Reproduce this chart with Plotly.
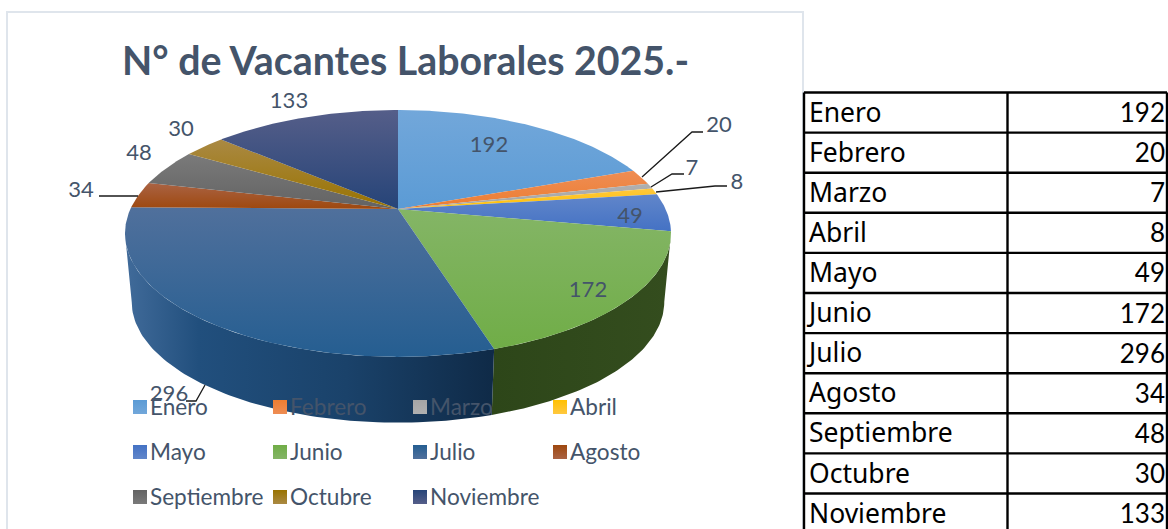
import numpy as np
import plotly.graph_objects as go

# ---- data ----
months = ["Enero", "Febrero", "Marzo", "Abril", "Mayo", "Junio", "Julio",
          "Agosto", "Septiembre", "Octubre", "Noviembre"]
vacancies = [192, 20, 7, 8, 49, 172, 296, 34, 48, 30, 133]
title_text = "N° de Vacantes Laborales 2025.-"

# ---- styles ----
top_colors = [("#72a7da", "#5b9bd5"), ("#ee8d54", "#ed7d31"), ("#b0b0b0", "#a5a5a5"),
              ("#ffc83f", "#ffc000"), ("#6186ca", "#4472c4"), ("#84b566", "#70ad47"),
              ("#50709c", "#255e91"), ("#aa6344", "#9e480e"), ("#7a7a7a", "#636363"),
              ("#aa8943", "#997300"), ("#555e89", "#264478")]
side_colors = {5: [(0, "#2d4619"), (1, "#344d1e")],
               6: [(0, "#416b9a"), (0.2, "#214f7d"), (0.6, "#1a426a"), (1, "#0f2a47")]}
text_color = "#44546a"
font = "Lato"

# ---- 3-D pie projection (canvas pixels) ----
CX, Y_TOP, R_TOP, H_TOP = 398.0, 209.0, 267.6, 118.6
Y_BOT, R_BOT, H_BOT = 278.0, 261.0, 116.0
K = 0.198


def project(t_deg, y0, r, h):
    t = np.radians(t_deg)
    u, v = np.sin(t), np.cos(t)
    w = 1 + K * v
    return CX + r * u / w, y0 - h * v / w


total = sum(vacancies)
cum = np.cumsum([0] + vacancies) / total * 360
sil_lo = np.degrees(np.arccos(-K))  # right-hand silhouette of the disc
sil_hi = 360 - sil_lo               # left-hand silhouette of the disc

fig = go.Figure()

# side walls
for i in range(len(vacancies)):
    a, b = max(cum[i], sil_lo), min(cum[i + 1], sil_hi)
    if b <= a or i not in side_colors:
        continue
    ts = np.linspace(a, b, 80)
    xt, yt = project(ts, Y_TOP, R_TOP, H_TOP)
    xb, yb = project(ts, Y_BOT, R_BOT, H_BOT)
    fig.add_trace(go.Scatter(
        x=np.r_[xt, xb[::-1], xt[0]], y=np.r_[yt, yb[::-1], yt[0]],
        mode="lines", line=dict(width=0), fill="toself",
        fillgradient=dict(type="horizontal", colorscale=side_colors[i]),
        hoverinfo="skip", showlegend=False))

# top surfaces
for i in range(len(vacancies)):
    ts = np.linspace(cum[i], cum[i + 1], max(4, int((cum[i + 1] - cum[i]) * 2)))
    xt, yt = project(ts, Y_TOP, R_TOP, H_TOP)
    fig.add_trace(go.Scatter(
        x=np.r_[CX, xt, CX], y=np.r_[Y_TOP, yt, Y_TOP],
        mode="lines", line=dict(width=0), fill="toself",
        fillgradient=dict(type="vertical",
                          colorscale=[(0, top_colors[i][1]), (1, top_colors[i][0])]),
        name=months[i], hoverinfo="skip", showlegend=False))

# leader lines
leaders = [
    [(99, 196), (138, 196)],
    [(642, 177), (692, 132), (703, 132)],
    [(651, 187), (672, 174), (684, 174)],
    [(656, 192), (715, 186), (727, 186)],
    [(186, 401), (196, 401), (205, 385)],
]
for pts in leaders:
    fig.add_trace(go.Scatter(x=[p[0] for p in pts], y=[p[1] for p in pts], mode="lines",
                             line=dict(color="#1a1a1a", width=1.3), hoverinfo="skip",
                             showlegend=False))

# data labels
label_x = [489, 719, 692, 737, 630, 588, 169, 81, 139, 181, 289]
label_y = [146, 126, 169, 183, 217, 291, 395, 191, 154, 130, 102]
fig.add_trace(go.Scatter(x=label_x, y=label_y, mode="text", text=[str(v) for v in vacancies],
                         textposition="middle center",
                         textfont=dict(family=font, size=22, color=text_color),
                         hoverinfo="skip", showlegend=False))

# legend
legend_cols = [140, 280, 420, 560]
legend_rows = [407, 452, 497]
for i, m in enumerate(months):
    lx = legend_cols[i % 4]
    ly = legend_rows[i // 4]
    fig.add_trace(go.Scatter(
        x=[lx], y=[ly], mode="markers",
        marker=dict(symbol="square", size=14, color=top_colors[i][1], line=dict(width=0),
                    gradient=dict(type="vertical", color=top_colors[i][0])),
        hoverinfo="skip", showlegend=False))
    fig.add_trace(go.Scatter(
        x=[lx + 10], y=[ly + 2], mode="text", text=[m], textposition="middle right",
        textfont=dict(family=font, size=22.6, color=text_color),
        hoverinfo="skip", showlegend=False))

# table
row_h = 40.1
table_top = 92.5
col_x = [804, 1007.5, 1167]
n = len(months)
table_lines = []
for r in range(n + 1):
    yy = table_top + r * row_h
    table_lines.append(dict(type="line", x0=col_x[0], x1=col_x[2], y0=yy, y1=yy,
                            line=dict(color="black", width=2.4), layer="above"))
for xx in col_x:
    table_lines.append(dict(type="line", x0=xx, x1=xx, y0=table_top, y1=table_top + n * row_h,
                            line=dict(color="black", width=2.4), layer="above"))
row_centers = [table_top + (r + 0.5) * row_h + 1 for r in range(n)]
fig.add_trace(go.Scatter(x=[809] * n, y=[c + 1.5 for c in row_centers], mode="text", text=months,
                         textposition="middle right",
                         textfont=dict(family="Noto Sans", size=26.5, color="black"),
                         hoverinfo="skip", showlegend=False))
fig.add_trace(go.Scatter(x=[1165] * n, y=[c + 2 for c in row_centers], mode="text",
                         text=[str(v) for v in vacancies],
                         textposition="middle left",
                         textfont=dict(family=font, size=26, color="black"),
                         hoverinfo="skip", showlegend=False))

frame = dict(type="rect", x0=7, x1=803, y0=12, y1=560, line=dict(color="#dfe5ec", width=2),
             fillcolor="rgba(0,0,0,0)", layer="below")

fig.update_layout(
    width=1168, height=529, margin=dict(l=0, r=0, t=0, b=0),
    paper_bgcolor="white", plot_bgcolor="white", showlegend=False,
    xaxis=dict(range=[0, 1168], visible=False, fixedrange=True),
    yaxis=dict(range=[529, 0], visible=False, fixedrange=True),
    shapes=[frame] + table_lines,
    annotations=[dict(x=405, y=59, xref="x", yref="y", text=f"<b>{title_text}</b>", showarrow=False,
                      font=dict(family=font, size=39.3, color=text_color))],
)

fig.write_html("out.html", config={"displayModeBar": False},
               post_script="document.body.style.margin='0';document.body.style.overflow='hidden';")
